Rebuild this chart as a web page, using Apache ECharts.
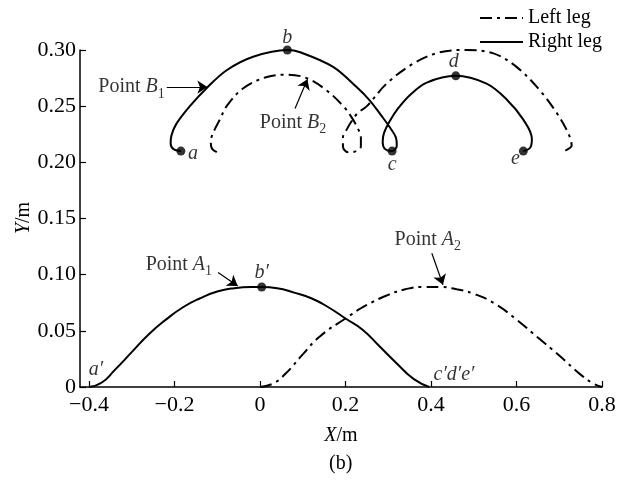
<!DOCTYPE html>
<html>
<head>
<meta charset="utf-8">
<script src="https://cdn.jsdelivr.net/npm/echarts@6/dist/echarts.min.js"></script>
<style>
  html, body { margin: 0; padding: 0; background: #fff; }
  #chart { width: 628px; height: 481px; }
</style>
</head>
<body>
<div id="chart"></div>
<script>
// Foot trajectories of the two legs, [X, Y] in metres
const rightLegSwing = [
  [-0.185, 0.210], [-0.203, 0.212], [-0.209, 0.217], [-0.207, 0.224], [-0.196, 0.234],
  [-0.164, 0.250], [-0.125, 0.266], [-0.078, 0.282], [-0.016, 0.294], [0.064, 0.300],
  [0.094, 0.298], [0.171, 0.285], [0.226, 0.267], [0.257, 0.255], [0.283, 0.242],
  [0.304, 0.231], [0.318, 0.222], [0.320, 0.215], [0.309, 0.210], [0.292, 0.212],
  [0.287, 0.218], [0.290, 0.226], [0.304, 0.237], [0.323, 0.248], [0.351, 0.260],
  [0.390, 0.271], [0.458, 0.277], [0.530, 0.270], [0.577, 0.256], [0.616, 0.238],
  [0.636, 0.221], [0.632, 0.213], [0.616, 0.210]
];
const leftLegSwing = [
  [-0.101, 0.209], [-0.112, 0.212], [-0.115, 0.217], [-0.113, 0.223], [-0.105, 0.230],
  [-0.094, 0.238], [-0.078, 0.250], [-0.039, 0.266], [0.016, 0.276], [0.064, 0.278],
  [0.109, 0.275], [0.156, 0.264], [0.195, 0.250], [0.211, 0.242], [0.225, 0.233],
  [0.236, 0.222], [0.236, 0.214], [0.225, 0.210], [0.206, 0.209], [0.194, 0.214],
  [0.194, 0.222], [0.204, 0.230], [0.215, 0.237], [0.229, 0.244], [0.250, 0.250],
  [0.296, 0.270], [0.359, 0.288], [0.421, 0.298], [0.483, 0.300], [0.546, 0.297],
  [0.600, 0.285], [0.655, 0.264], [0.694, 0.244], [0.721, 0.226], [0.729, 0.215],
  [0.717, 0.211], [0.709, 0.210]
];
const rightLegGround = [
  [-0.400, 0.000], [-0.370, 0.004], [-0.340, 0.015], [-0.300, 0.031], [-0.260, 0.047],
  [-0.220, 0.060], [-0.180, 0.071], [-0.140, 0.079], [-0.100, 0.085], [-0.060, 0.088],
  [-0.020, 0.089], [0.004, 0.089], [0.040, 0.088], [0.080, 0.084], [0.120, 0.079],
  [0.160, 0.071], [0.200, 0.061], [0.240, 0.051], [0.280, 0.036], [0.320, 0.021],
  [0.360, 0.007], [0.396, 0.000]
];
const leftLegGround = [
  [0.000, 0.000], [0.030, 0.003], [0.060, 0.012], [0.100, 0.029], [0.140, 0.045],
  [0.200, 0.061], [0.250, 0.073], [0.300, 0.082], [0.340, 0.087], [0.380, 0.089],
  [0.420, 0.089], [0.460, 0.087], [0.500, 0.083], [0.550, 0.074], [0.600, 0.060],
  [0.650, 0.044], [0.700, 0.028], [0.750, 0.011], [0.780, 0.003], [0.800, 0.000]
];

// Key points marked on the right-leg paths
const keyNames = ['a', 'b', 'c', 'd', 'e', 'b′'];
const keyX = [-0.185, 0.064, 0.309, 0.458, 0.616, 0.004];
const keyY = [0.210, 0.300, 0.210, 0.277, 0.210, 0.089];

// Unmarked point labels on the ground line
const groundNames = ['a′', 'c′d′e′'];
const groundX = [-0.4, 0.4];
const groundY = [0, 0];

// Tick values
const xTickValues = [-0.4, -0.2, 0, 0.2, 0.4, 0.6, 0.8];

// Callouts: label text, arrow tail and arrow head in data units
const callouts = [
  { text: '{t|Point }{i|B}{s|1}', from: [-0.218, 0.267], to: [-0.123, 0.267], pos: 'left', offset: [0, 0] },
  { text: '{t|Point }{i|B}{s|2}', from: [0.082, 0.248], to: [0.111, 0.274], pos: 'bottom', offset: [-2, -2] },
  { text: '{t|Point }{i|A}{s|1}', from: [-0.098, 0.102], to: [-0.052, 0.090], pos: 'left', offset: [-4, -8] },
  { text: '{t|Point }{i|A}{s|2}', from: [0.402, 0.119], to: [0.428, 0.091], pos: 'top', offset: [-4, 2] }
];

const serif = "'Liberation Serif', 'Times New Roman', serif";
const FS = 20;
const TICK_FS = 22;
const rich = {
  t: { fontFamily: serif, fontSize: FS, color: '#000', lineHeight: 28, verticalAlign: 'middle' },
  i: { fontFamily: serif, fontSize: FS, fontStyle: 'italic', color: '#000', lineHeight: 28, verticalAlign: 'middle' },
  s: { fontFamily: serif, fontSize: 14, color: '#000', lineHeight: 14, verticalAlign: 'bottom' }
};

const dashDot = [12, 5, 3, 5];
const keyOffsets = { 'a': [12, 3], 'b': [0, -12], 'c': [0, 14], 'd': [-2, -14], 'e': [-8, 8], 'b′': [0, -14] };
const groundOffsets = { 'a′': [7, -17], 'c′d′e′': [23, -12] };

const fmtTick = v => {
  if (Math.abs(v) < 1e-9) return '0';
  const s = (Math.round(v * 10) / 10).toString();
  return s.replace('-', '−');
};

const chart = echarts.init(document.getElementById('chart'), null, { renderer: 'canvas' });

const lineBase = (name, data, type, smooth) => ({
  name, type: 'line', data, symbol: 'none', smooth,
  lineStyle: { color: '#000', width: 2, type },
  itemStyle: { color: '#000' },
  silent: true, z: 3
});

chart.setOption({
  animation: false,
  backgroundColor: '#fff',
  grid: { left: 80, right: 26, top: 50, bottom: 94 },
  legend: {
    data: ['Left leg', 'Right leg'],
    orient: 'vertical', left: 474, top: 3,
    itemWidth: 43, itemHeight: 12, itemGap: 4,
    itemStyle: { opacity: 0 },
    textStyle: { fontFamily: serif, fontSize: FS, color: '#000' }
  },
  xAxis: {
    type: 'value', min: -0.421, max: 0.8,
    name: '{i|X}/m', nameLocation: 'middle', nameGap: 35,
    nameTextStyle: { fontFamily: serif, fontSize: FS, color: '#000', rich },
    axisLine: { lineStyle: { color: '#000', width: 1.5 } },
    axisTick: { inside: true, length: 6, customValues: xTickValues, lineStyle: { color: '#000', width: 1.2 } },
    axisLabel: { customValues: xTickValues, formatter: fmtTick, margin: 7, fontFamily: serif, fontSize: TICK_FS, color: '#000' },
    splitLine: { show: false }
  },
  yAxis: {
    type: 'value', min: 0, max: 0.3, interval: 0.05,
    axisLine: { onZero: false, lineStyle: { color: '#000', width: 1.5 } },
    axisTick: { inside: true, length: 6, lineStyle: { color: '#000', width: 1.2 } },
    axisLabel: {
      margin: 4, fontFamily: serif, fontSize: TICK_FS, color: '#000',
      formatter: v => (v === 0 ? '0' : v.toFixed(2))
    },
    splitLine: { show: false }
  },
  graphic: [
    {
      // vertical axis title
      type: 'text', x: 24, y: 218, rotation: Math.PI / 2,
      style: {
        text: '{i|Y}/m', fontFamily: serif, fontSize: FS, fill: '#000',
        align: 'center', verticalAlign: 'middle',
        rich: { i: { fontFamily: serif, fontSize: FS, fontStyle: 'italic', fill: '#000' } }
      }
    },
    {
      type: 'text', left: 329, top: 454,
      style: { text: '(b)', fontFamily: serif, fontSize: FS, fill: '#000' }
    }
  ],
  series: [
    lineBase('Left leg', leftLegSwing, dashDot, 0.35),
    lineBase('Left leg', leftLegGround, dashDot, 0.5),
    lineBase('Right leg', rightLegSwing, 'solid', 0.35),
    lineBase('Right leg', rightLegGround, 'solid', 0.5),
    {
      name: 'key points', type: 'scatter', symbol: 'circle', symbolSize: 9,
      itemStyle: { color: '#000' }, silent: true, z: 5,
      data: keyNames.map((n, i) => ({
        name: n, value: [keyX[i], keyY[i]],
        label: { offset: keyOffsets[n] }
      })),
      label: {
        show: true, position: 'inside', formatter: p => p.name,
        fontFamily: serif, fontSize: FS, fontStyle: 'italic', color: '#000'
      }
    },
    {
      name: 'ground labels', type: 'scatter', symbolSize: 0, silent: true, z: 5,
      data: groundNames.map((n, i) => ({
        name: n, value: [groundX[i], groundY[i]],
        label: { offset: groundOffsets[n] }
      })),
      label: {
        show: true, position: 'inside', formatter: p => p.name,
        fontFamily: serif, fontSize: FS, fontStyle: 'italic', color: '#000'
      }
    },
    {
      name: 'callouts', type: 'scatter', symbolSize: 0, silent: true, z: 6,
      data: callouts.map(c => ({
        value: c.from, text: c.text,
        label: { position: c.pos, distance: 2, offset: c.offset }
      })),
      label: { show: true, formatter: p => p.data.text, rich },
      markLine: {
        silent: true, animation: false,
        symbol: ['none', 'arrow'], symbolSize: 10,
        label: { show: false },
        lineStyle: { color: '#000', width: 1.2, type: 'solid' },
        itemStyle: { color: '#000' },
        emphasis: { disabled: true },
        data: callouts.map(c => [{ coord: c.from }, { coord: c.to }])
      }
    }
  ]
});
</script>
</body>
</html>
